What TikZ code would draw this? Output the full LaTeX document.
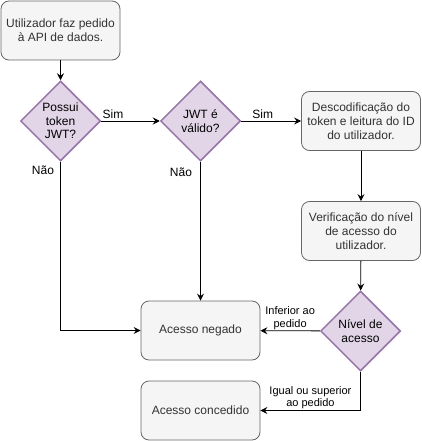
\documentclass[tikz,border=0pt]{standalone}
\usepackage{fontspec}
\setmainfont{Liberation Sans}
\usetikzlibrary{shapes.geometric,arrows.meta}
\definecolor{boxfill}{HTML}{F5F5F5}
\definecolor{boxline}{HTML}{666666}
\definecolor{boxtext}{HTML}{333333}
\definecolor{decfill}{HTML}{E1D5E7}
\definecolor{decline}{HTML}{9673A6}
\begin{document}
\begin{tikzpicture}[x=1pt,y=-1pt,
    stepbox/.style={draw=boxline,fill=boxfill,text=boxtext,rounded corners=8pt,
        line width=0.8pt,minimum width=119pt,minimum height=59pt,align=center,
        inner sep=0pt,font=\fontsize{12}{14}\selectfont},
    decision/.style={diamond,draw=decline,fill=decfill,line width=1.5pt,
        minimum width=80pt,minimum height=80pt,inner sep=0pt,align=center,
        font=\fontsize{12}{13.5}\selectfont},
    flow/.style={-{Stealth[length=7pt,width=7pt,inset=2.5pt]},line width=0.8pt},
    lbl/.style={font=\fontsize{12}{13}\selectfont,inner sep=1.5pt},
    small/.style={font=\fontsize{11}{12.5}\selectfont,align=center,inner sep=1pt}]
    \useasboundingbox (0,0) rectangle (421,441);
    % caixas e decisoes
    \node[stepbox] (pedido) at (60.5,30.5) {Utilizador faz pedido\\à API de dados.};
    \node[decision] (token) at (60.5,121) {Possui\\token\\JWT?};
    \node[decision] (valido) at (200.5,121) {JWT é\\válido?};
    \node[stepbox] (descod) at (361,121) {Descodificação do\\token e leitura do ID\\do utilizador.};
    \node[stepbox] (verif) at (361,231) {Verificação do nível\\de acesso do\\utilizador.};
    \node[decision] (nivel) at (360.5,331) {Nível de\\acesso};
    \node[stepbox] (negado) at (200.5,330.5) {Acesso negado};
    \node[stepbox] (concedido) at (200.5,410.5) {Acesso concedido};
    % ligacoes
    \draw[flow] (pedido) -- (token);
    \draw[flow] (token) -- (valido) node[lbl,pos=0.2,above] {Sim};
    \draw[flow] (valido) -- (descod) node[lbl,pos=0.36,above] {Sim};
    \draw[flow] (descod) -- (verif);
    \draw[flow] (verif) -- (nivel);
    \draw[flow] (token.south) |- (negado.west);
    \node[lbl] at (43,170) {Não};
    \draw[flow] (valido.south) -- (negado.north -| valido.south);
    \node[lbl] at (181,172) {Não};
    \draw[flow] (nivel) -- (negado) node[small,midway,above] {Inferior ao\\pedido};
    \draw[flow] (nivel.south) |- (concedido.east)
        node[small,pos=0.75,above] {Igual ou superior\\ao pedido};
\end{tikzpicture}
\end{document}
